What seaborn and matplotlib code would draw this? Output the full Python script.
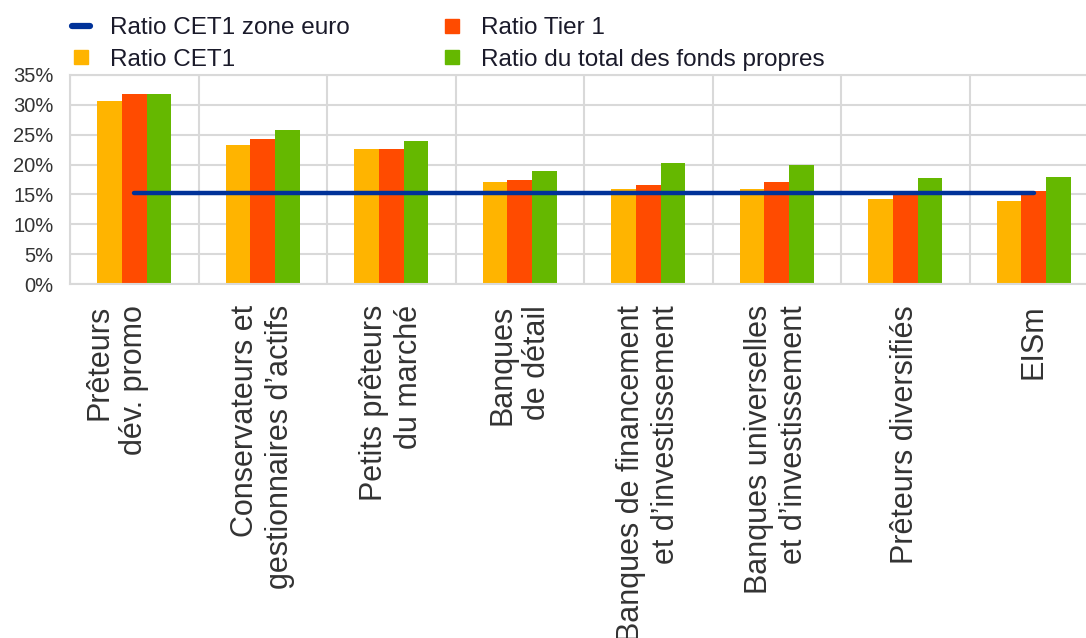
import numpy as np
import pandas as pd
import matplotlib
matplotlib.use("Agg")
import matplotlib.pyplot as plt
from matplotlib.lines import Line2D
from matplotlib.ticker import FuncFormatter, MultipleLocator
import seaborn as sns

# data (in %)
categories = [
    "Prêteurs\ndév. promo\n ",
    "Conservateurs et\ngestionnaires d\u2019actifs",
    "Petits prêteurs\ndu marché",
    "Banques\nde détail",
    "Banques de financement\net d\u2019investissement",
    "Banques universelles\net d\u2019investissement",
    "Prêteurs diversifiés",
    "EISm",
]
cet1 = [30.6, 23.2, 22.6, 17.1, 15.9, 15.9, 14.2, 13.9]
tier1 = [31.9, 24.2, 22.6, 17.4, 16.5, 17.1, 15.2, 15.5]
total_capital = [31.9, 25.8, 23.9, 19.0, 20.3, 20.0, 17.8, 18.0]
cet1_euro_area = [15.2, 15.2, 15.2, 15.2, 15.2, 15.2, 15.2, 15.2]

series_names = ["Ratio CET1", "Ratio Tier 1", "Ratio du total des fonds propres"]
line_name = "Ratio CET1 zone euro"

yellow, red, green, blue = "#FFB400", "#FF4B00", "#65B800", "#003299"
grid_col = "#D9D9D9"
text_col = "#333333"

df = pd.DataFrame({
    "cat": categories * 3,
    "serie": sum([[s] * len(categories) for s in series_names], []),
    "val": cet1 + tier1 + total_capital,
})

sns.set_style("white")
plt.rcParams["font.family"] = ["Liberation Sans", "DejaVu Sans"]

W, H = 1086, 638
fig = plt.figure(figsize=(W / 100, H / 100), dpi=100)
ax = fig.add_axes([70 / W, 1 - 284 / H, 1028 / W, 209 / H])

sns.barplot(data=df, x="cat", y="val", hue="serie", order=categories,
            hue_order=series_names, palette=[yellow, red, green],
            saturation=1, width=0.576, linewidth=0, legend=False, ax=ax)
ax.plot(range(len(categories)), cet1_euro_area, color=blue, lw=3.2, zorder=5)

ax.set_xlim(-0.5, len(categories) - 0.5)
ax.set_ylim(0, 35)
ax.yaxis.set_major_locator(MultipleLocator(5))
ax.yaxis.set_major_formatter(FuncFormatter(lambda v, p: f"{v:.0f}%"))
ax.set_xticks(np.arange(len(categories) + 1) - 0.5, minor=True)
ax.grid(axis="y", which="major", color=grid_col, lw=1.5)
ax.grid(axis="x", which="minor", color=grid_col, lw=1.5)
ax.set_axisbelow(True)
for s in ax.spines.values():
    s.set_color(grid_col)
    s.set_linewidth(1.5)
ax.set_xlabel("")
ax.set_ylabel("")

ax.tick_params(axis="both", which="both", length=0)
ax.tick_params(axis="y", labelsize=14.5, labelcolor=text_col, pad=12)
ax.tick_params(axis="x", labelsize=22, labelcolor=text_col, pad=15)
for lab in ax.get_xticklabels():
    lab.set_rotation(90)
    lab.set_ha("center")
    lab.set_va("top")
    lab.set_multialignment("right")

handles = [
    Line2D([], [], color=blue, lw=4.5),
    Line2D([], [], marker="s", color=yellow, ls="none", markersize=10),
    Line2D([], [], marker="s", color=red, ls="none", markersize=10),
    Line2D([], [], marker="s", color=green, ls="none", markersize=10),
]
labels = [line_name, series_names[0], series_names[1], series_names[2]]
fig.legend(handles, labels, loc="upper left", bbox_to_anchor=(72 / W, 1 - 17 / H),
           ncol=2, frameon=False, fontsize=17.5, handlelength=0.75,
           handletextpad=0.8, columnspacing=3.85, labelspacing=0.4,
           borderpad=0, borderaxespad=0, labelcolor="#1a1a2a")

fig.savefig("out.png", dpi=100)
